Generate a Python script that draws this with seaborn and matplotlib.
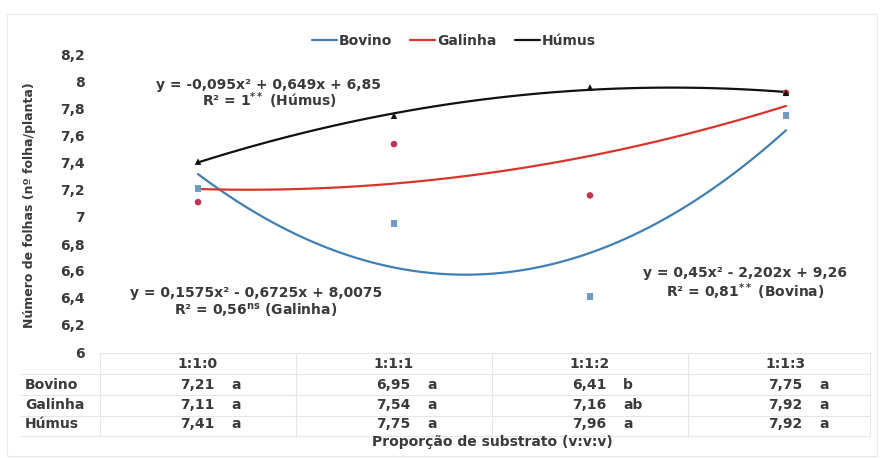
#!/usr/bin/env python3
"""
Número de folhas por proporção de substrato - regressão quadrática
"""

import numpy as np
import pandas as pd
import matplotlib
matplotlib.use('Agg')
import matplotlib.pyplot as plt
import matplotlib.transforms as mtransforms
from matplotlib.lines import Line2D
from matplotlib.patches import Rectangle
from matplotlib.ticker import FuncFormatter, MultipleLocator
import seaborn as sns

# dados
proporcoes = ['1:1:0', '1:1:1', '1:1:2', '1:1:3']
posicoes = [1, 2, 3, 4]
bovino = [7.21, 6.95, 6.41, 7.75]
galinha = [7.11, 7.54, 7.16, 7.92]
humus = [7.41, 7.75, 7.96, 7.92]
letras_bovino = ['a', 'a', 'b', 'a']
letras_galinha = ['a', 'a', 'ab', 'a']
letras_humus = ['a', 'a', 'a', 'a']
substratos = ['Bovino', 'Galinha', 'Húmus']

eq_humus = ['y = -0,095x² + 0,649x + 6,85', 'R² = 1$^{**}$ (Húmus)']
eq_galinha = ['y = 0,1575x² - 0,6725x + 8,0075', 'R² = 0,56$^{ns}$ (Galinha)']
eq_bovino = ['y = 0,45x² - 2,202x + 9,26', 'R² = 0,81$^{**}$ (Bovina)']

# estilo
sns.set_style('white')
plt.rcParams['font.family'] = ['DejaVu Sans']
plt.rcParams['font.weight'] = 'bold'
plt.rcParams['mathtext.fontset'] = 'dejavusans'
plt.rcParams['mathtext.default'] = 'bf'

TXT = '#3a3a3a'
cores_linha = {'Bovino': '#3f7fb5', 'Galinha': '#d9342b', 'Húmus': '#111111'}
cores_ponto = {'Bovino': '#6f9cc4', 'Galinha': '#c8304a', 'Húmus': '#111111'}
marcadores = {'Bovino': 's', 'Galinha': 'o', 'Húmus': '^'}

W, H = 880, 458


def fx(px):
    return px / W


def fy(py):
    return 1 - py / H


def br(v):
    return f'{v:g}'.replace('.', ',')


df = pd.DataFrame({
    'pos': posicoes * 3,
    'folhas': bovino + galinha + humus,
    'substrato': np.repeat(substratos, 4),
})

fig = plt.figure(figsize=(W / 100, H / 100), dpi=100)
ax = fig.add_axes([fx(100), fy(352), fx(780), 297 / H])

# curvas ajustadas (polinômio de 2º grau)
for nome in substratos:
    sub = df[df['substrato'] == nome]
    sns.regplot(data=sub, x='pos', y='folhas', order=2, ci=None, scatter=False,
                color=cores_linha[nome], line_kws={'lw': 1.6}, ax=ax)

sns.scatterplot(data=df, x='pos', y='folhas', hue='substrato', style='substrato',
                markers=marcadores, palette=cores_ponto, s=22, linewidth=0,
                legend=False, ax=ax, zorder=5)

ax.set_xlim(0.5, 4.48)
ax.set_ylim(6, 8.2)
ax.yaxis.set_major_locator(MultipleLocator(0.2))
ax.yaxis.set_major_formatter(FuncFormatter(lambda v, p: br(round(v, 1))))
ax.set_xticks([])
ax.set_xlabel('')
ax.set_ylabel('')
ax.tick_params(axis='y', length=0, pad=11, labelsize=10, labelcolor=TXT)
for s in ax.spines.values():
    s.set_visible(False)

fig.text(fx(30), fy(205), 'Número de folhas (nº folha/planta)', rotation=90,
         ha='center', va='center', fontsize=9, color=TXT)

# legenda
handles = [Line2D([], [], color=cores_linha[n], lw=1.6, label=n) for n in substratos]
ax.legend(handles=handles, loc='center', bbox_to_anchor=(fx(454), fy(41)),
          bbox_transform=fig.transFigure, ncol=3, frameon=False, fontsize=10,
          handlelength=1.8, handletextpad=0.15, columnspacing=1.3,
          labelcolor=TXT)

# equações
for eq, (cx, y1, y2) in [(eq_humus, (269, 85, 101)),
                         (eq_galinha, (256, 293, 310)),
                         (eq_bovino, (745, 273, 292))]:
    fig.text(fx(cx), fy(y1), eq[0], ha='center', va='center', fontsize=10, color=TXT)
    fig.text(fx(cx), fy(y2), eq[1], ha='center', va='center', fontsize=10, color=TXT)

# tabela de dados
trans = mtransforms.blended_transform_factory(ax.transData, fig.transFigure)
fig.add_artist(Line2D([fx(100), fx(870)], [fy(353), fy(353)], transform=fig.transFigure,
                      color='#e6e6e6', lw=0.8))
for y in [374, 395, 416, 436]:
    fig.add_artist(Line2D([fx(20), fx(870)], [fy(y), fy(y)], transform=fig.transFigure,
                          color='#e6e6e6', lw=0.8))
for b in [0.5, 1.5, 2.5, 3.5, 4.43]:
    fig.add_artist(Line2D([b, b], [fy(353), fy(436)], transform=trans,
                          color='#e6e6e6', lw=0.8))

for p, rot in zip(posicoes, proporcoes):
    ax.text(p, fy(364), rot, ha='center', va='center', transform=trans,
            fontsize=10, color=TXT)

tabela = [('Bovino', bovino, letras_bovino, 385),
          ('Galinha', galinha, letras_galinha, 405),
          ('Húmus', humus, letras_humus, 424)]
for nome, vals, letras, y in tabela:
    fig.text(fx(25), fy(y), nome, ha='left', va='center', fontsize=10, color=TXT)
    for p, v, l in zip(posicoes, vals, letras):
        ax.text(p + 0.085, fy(y), f'{v:.2f}'.replace('.', ','), ha='right',
                va='center', transform=trans, fontsize=10, color=TXT)
        ax.text(p + 0.17, fy(y), l, ha='left', va='center', transform=trans,
                fontsize=10, color=TXT)

fig.text(fx(492), fy(442), 'Proporção de substrato (v:v:v)', ha='center',
         va='center', fontsize=10, color=TXT)

# moldura do gráfico
fig.add_artist(Rectangle((fx(7), fy(456)), fx(870), (456 - 14) / H,
                         transform=fig.transFigure, fill=False,
                         edgecolor='#e8e8e8', lw=0.8))

fig.savefig('out.png', dpi=100)
